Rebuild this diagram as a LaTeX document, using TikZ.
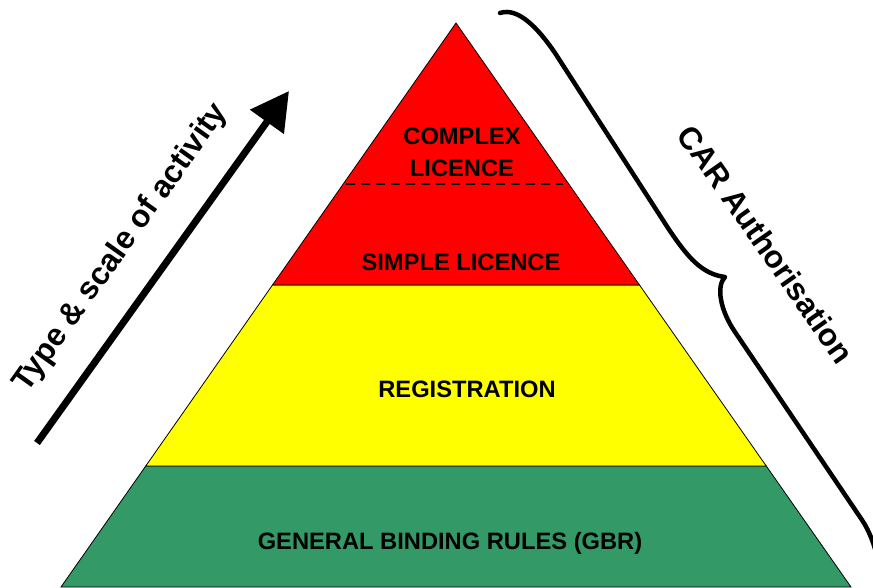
\documentclass[tikz,border=0pt]{standalone}
\usepackage{fontspec}
\setmainfont{Liberation Sans}
\usetikzlibrary{arrows.meta,calc}
\definecolor{pyrred}{RGB}{255,0,0}
\definecolor{pyryellow}{RGB}{255,255,0}
\definecolor{pyrgreen}{RGB}{51,153,102}
\tikzset{
  layer/.style={draw=black,line width=0.8pt,line join=miter},
  lbl/.style={font=\fontsize{23.7}{32}\selectfont\bfseries,align=center,inner sep=0pt},
  sidelbl/.style={font=\fontsize{31.5}{36}\selectfont\bfseries,inner sep=0pt},
  bigarrow/.style={line width=7pt,-{Triangle[length=38pt,width=40pt]}},
  bracepath/.style={line width=4.5pt,line cap=round,line join=round},
  divider/.style={line width=1.5pt,dash pattern=on 9pt off 6pt}
}
\begin{document}
\begin{tikzpicture}[x=1pt,y=-1pt]
\useasboundingbox (0,0) rectangle (873,588);
\clip (0,0) rectangle (873,588);
\fill[white] (0,0) rectangle (873,588);
% pyramid corners
\coordinate (apex) at (456,23);
\coordinate (bl) at (61,587);
\coordinate (br) at (851,587);
\coordinate (l1) at ($(apex)!0.4645!(bl)$);
\coordinate (r1) at ($(apex)!0.4645!(br)$);
\coordinate (l2) at ($(apex)!0.7855!(bl)$);
\coordinate (r2) at ($(apex)!0.7855!(br)$);
\coordinate (dl) at ($(apex)!0.2855!(bl)$);
\coordinate (dr) at ($(apex)!0.2855!(br)$);
% layers
\draw[layer,fill=pyrgreen] (l2) -- (r2) -- (br) -- (bl) -- cycle;
\draw[layer,fill=pyryellow] (l1) -- (r1) -- (r2) -- (l2) -- cycle;
\draw[layer,fill=pyrred] (apex) -- (r1) -- (l1) -- cycle;
\draw[divider] ($(dl)+(3,0)$) -- ($(dr)+(-6,0)$);
% labels
\node[lbl] (complex) at (462,152) {COMPLEX\\LICENCE};
\node[lbl] (simple) at (461,262) {SIMPLE LICENCE};
\node[lbl] (reg) at (467,389) {REGISTRATION};
\node[lbl] (gbr) at (450,543) {GENERAL BINDING RULES (GBR)};
% arrow
\coordinate (atail) at (37,443);
\coordinate (atip) at (289,91);
\draw[bigarrow] (atail) -- (atip);
\node[sidelbl,rotate=54.5] (type) at (121,248) {Type \& scale of activity};
% brace
\draw[bracepath] (500,13) .. controls (518,7) and (538,28) .. (555,53)
  -- (668,228) .. controls (688,258) and (702,274) .. (725,277)
  .. controls (716,286) and (720,310) .. (735,332)
  -- (862,520) .. controls (870,532) and (876,548) .. (880,570);
\node[sidelbl,rotate=-55] (car) at (766,244) {CAR Authorisation};
\end{tikzpicture}
\end{document}
